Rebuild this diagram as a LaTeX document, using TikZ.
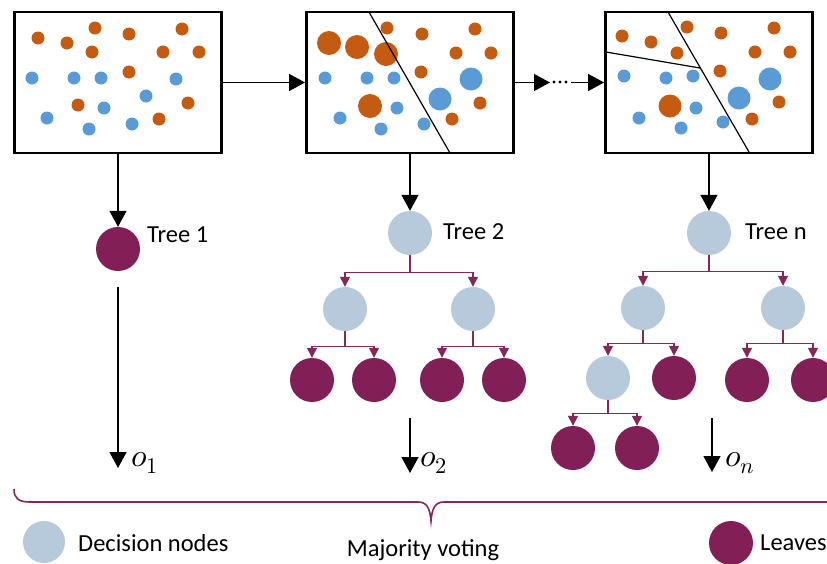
\documentclass[tikz,border=0pt]{standalone}
\usepackage{fontspec}
\usepackage{unicode-math}
\setmainfont{Carlito}
\usetikzlibrary{arrows.meta,calc}
\definecolor{dotorange}{HTML}{C55A11}
\definecolor{dotblue}{HTML}{5B9BD5}
\definecolor{decfill}{HTML}{B6CADB}
\definecolor{leaffill}{HTML}{831F57}
\definecolor{branchc}{HTML}{85275B}
\begin{document}
\begin{tikzpicture}[x=1pt,y=-1pt,
  panel/.style={draw=black,line width=2.8pt,minimum width=207pt,minimum height=141pt,inner sep=0pt},
  decision/.style={circle,fill=decfill,minimum size=44pt,inner sep=0pt},
  leaf/.style={circle,fill=leaffill,minimum size=44pt,inner sep=0pt},
  bigarrow/.style={line width=1.2pt,-{Triangle[width=17pt,length=16pt]}},
  branch/.style={draw=branchc,line width=1.4pt,-{Triangle[width=10pt,length=10pt]}},
  lbl/.style={font=\fontsize{24.5}{28}\selectfont,inner sep=0pt,anchor=west},
  outlbl/.style={font=\fontsize{32}{36}\selectfont,inner sep=0pt,anchor=base west}]
\clip (0,0) rectangle (827,563);

% ---- scattered samples, panel 1
\foreach \x/\y in {38/38,67/43,95/28,92/52,129/34,182/29,163/52,199/52,129/72,78/105,188/103,159/119}
  \fill[dotorange] (\x,\y) circle[radius=6.5pt];
\foreach \x/\y in {32/78,74/78,101/78,176/79,146/96,104/108,47/118,89/129,132/124}
  \fill[dotblue] (\x,\y) circle[radius=6.5pt];

% ---- panel 2: reweighted samples and one split
\foreach \x/\y in {387/28,422/34,475/29,456/53,491/53,421/72,480/103,452/119}
  \fill[dotorange] (\x,\y) circle[radius=6.5pt];
\foreach \x/\y in {329/43,357/47,386/54,370/106}
  \fill[dotorange] (\x,\y) circle[radius=12pt];
\foreach \x/\y in {325/78,367/78,394/78,397/108,340/118,381/129,424/124}
  \fill[dotblue] (\x,\y) circle[radius=6.5pt];
\foreach \x/\y in {471/79,440/99}
  \fill[dotblue] (\x,\y) circle[radius=11.5pt];
\draw[line width=1.2pt] (369,12) -- (450,153);

% ---- panel 3: two splits
\foreach \x/\y in {622/36,651/42,687/27,721/33,774/28,677/53,755/52,790/52,720/71,779/102,752/119}
  \fill[dotorange] (\x,\y) circle[radius=6.5pt];
\fill[dotorange] (670,106) circle[radius=11.5pt];
\foreach \x/\y in {624/76,666/78,693/76,696/108,639/118,681/128,723/122}
  \fill[dotblue] (\x,\y) circle[radius=6.5pt];
\foreach \x/\y in {770/79,739/98}
  \fill[dotblue] (\x,\y) circle[radius=11.5pt];
\draw[line width=1.2pt] (668,12) -- (749,152);
\draw[line width=1.2pt] (606,52) -- (700,68);

% ---- panel frames
\node[panel] (b1) at (118,82.5) {};
\node[panel] (b2) at (410,82.5) {};
\node[panel] (b3) at (709,82.5) {};

% ---- links between panels
\coordinate (dl) at (550,82.5);
\coordinate (dr) at (571,82.5);
\foreach \x in {554,560,566}
  \fill (\x,82) circle[radius=1.7pt];
\draw[bigarrow] (b1.east) -- (b2.west);
\draw[bigarrow] (b2.east) -- (dl);
\draw[bigarrow] (dr) -- (b3.west);

% ---- tree 1
\node[leaf] (t1) at (118,249) {};
\node[lbl] (t1l) at (147,235) {Tree 1};
\draw[bigarrow] (b1.south) -- (t1.north);

% ---- tree 2
\node[decision] (t2) at (410,233) {};
\node[lbl] (t2l) at (443,232) {Tree 2};
\draw[bigarrow] (b2.south) -- (t2.north);
\node[decision] (t2a) at (345,309) {};
\node[decision] (t2b) at (473,309) {};
\node[leaf] (t2aa) at (312,380) {};
\node[leaf] (t2ab) at (374,380) {};
\node[leaf] (t2ba) at (442,380) {};
\node[leaf] (t2bb) at (504,380) {};
\draw[branch] (t2.south) -- ++(0,17) -| (t2a.north);
\draw[branch] (t2.south) -- ++(0,17) -| (t2b.north);
\draw[branch] (t2a.south) -- ++(0,15) -| (t2aa.north);
\draw[branch] (t2a.south) -- ++(0,15) -| (t2ab.north);
\draw[branch] (t2b.south) -- ++(0,15) -| (t2ba.north);
\draw[branch] (t2b.south) -- ++(0,15) -| (t2bb.north);

% ---- tree n
\node[decision] (tn) at (709,233) {};
\node[lbl] (tnl) at (745,232) {Tree n};
\draw[bigarrow] (b3.south) -- (tn.north);
\node[decision] (tna) at (643,308) {};
\node[decision] (tnb) at (783,308) {};
\node[decision] (tnaa) at (608,378) {};
\node[leaf] (tnab) at (674,378) {};
\node[leaf] (tnba) at (747,380) {};
\node[leaf] (tnbb) at (813,380) {};
\node[leaf] (tnaaa) at (573,448) {};
\node[leaf] (tnaab) at (637,448) {};
\draw[branch] (tn.south) -- ++(0,16) -| (tna.north);
\draw[branch] (tn.south) -- ++(0,16) -| (tnb.north);
\draw[branch] (tna.south) -- ++(0,13) -| (tnaa.north);
\draw[branch] (tna.south) -- ++(0,13) -| (tnab.north);
\draw[branch] (tnb.south) -- ++(0,13) -| (tnba.north);
\draw[branch] (tnb.south) -- ++(0,13) -| (tnbb.north);
\draw[branch] (tnaa.south) -- ++(0,13) -| (tnaaa.north);
\draw[branch] (tnaa.south) -- ++(0,13) -| (tnaab.north);

% ---- outputs
\coordinate (o1s) at (118,287);  \coordinate (o1e) at (118,468);
\coordinate (o2s) at (410,418);  \coordinate (o2e) at (410,473);
\coordinate (ons) at (712,418);  \coordinate (one) at (712,472);
\draw[bigarrow] (o1s) -- (o1e);
\draw[bigarrow] (o2s) -- (o2e);
\draw[bigarrow] (ons) -- (one);
\node[outlbl] (o1) at (131,466) {$o_1$};
\node[outlbl] (o2) at (420,466) {$o_2$};
\node[outlbl] (on) at (725,466) {$o_n$};

% ---- brace collecting the votes
\draw[branchc,line width=1.6pt]
  (14,489) .. controls (14,498) and (18,502) .. (30,502) -- (418,502)
  .. controls (426,502) and (430,507) .. (431,521)
  .. controls (432,507) and (436,502) .. (444,502) -- (840,502);

% ---- legend
\node[decision,minimum size=42pt] (legdec) at (44,542) {};
\node[lbl] (legdecl) at (78,543) {Decision nodes};
\node[font=\fontsize{24.5}{28}\selectfont,inner sep=0pt] (vote) at (423,550) {Majority voting};
\node[leaf] (legleaf) at (731,543) {};
\node[lbl] (legleafl) at (760,543) {Leaves};
\end{tikzpicture}
\end{document}
